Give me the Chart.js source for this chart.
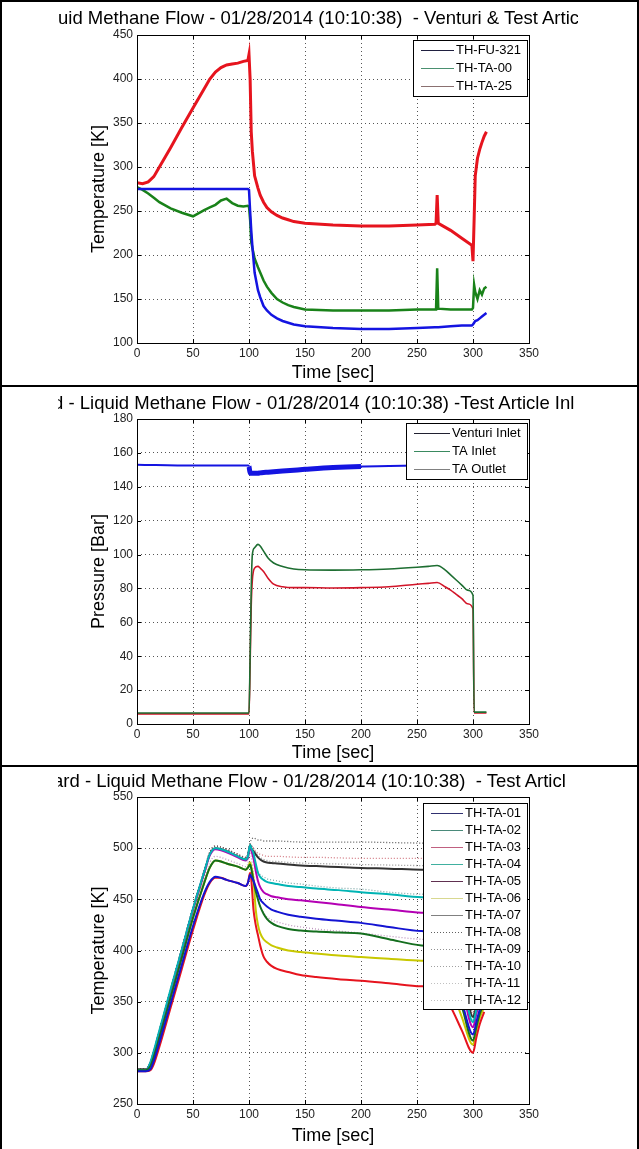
<!DOCTYPE html>
<html>
<head>
<meta charset="utf-8">
<script src="https://cdn.jsdelivr.net/npm/chart.js@4.4.1/dist/chart.umd.min.js"></script>
<style>
  body { margin: 0; background: #fff; }
  #page { position: relative; width: 639px; height: 1149px; overflow: hidden; background: #fff; }
  canvas { position: absolute; left: 0; }
  .rule { position: absolute; background: #000; }
  .title { position: absolute; left: 58px; width: 520px; height: 24px; overflow: hidden;
           white-space: pre; font: 18.5px "Liberation Sans", Arial, sans-serif; color: #000; }
</style>
</head>
<body>
<div id="page">
  <canvas id="tempChart" width="639" height="388" style="top:0"></canvas>
  <canvas id="pressChart" width="639" height="383" style="top:385px"></canvas>
  <canvas id="articleChart" width="639" height="385" style="top:766px"></canvas>

  <div class="title" style="top:7px"><span>uid Methane Flow - 01/28/2014 (10:10:38)  - Venturi &amp; Test Artic</span></div>
  <div class="title" style="top:392px"><span style="margin-left:-5px">d - Liquid Methane Flow - 01/28/2014 (10:10:38) -Test Article Inl</span></div>
  <div class="title" style="top:770px"><span style="margin-left:-5px">ard - Liquid Methane Flow - 01/28/2014 (10:10:38)  - Test Articl</span></div>

  <div class="rule" style="left:0;top:0;width:639px;height:2px"></div>
  <div class="rule" style="left:0;top:385px;width:639px;height:2px"></div>
  <div class="rule" style="left:0;top:765px;width:639px;height:2px"></div>
  <div class="rule" style="left:0;top:0;width:2px;height:1149px"></div>
  <div class="rule" style="left:637px;top:0;width:2px;height:1149px"></div>
</div>

<script>
// panel 1 - venturi & test article temperatures
const p1Time = [0, 5, 10, 15, 20, 30, 40, 50, 60, 65,
  70, 75, 80, 85, 90, 95, 99, 100, 101, 102,
  103, 105, 108, 110, 113, 116, 120, 125, 130, 135,
  140, 150, 175, 200, 225, 250, 266, 267, 268, 269,
  280, 290, 299, 300, 301, 302, 304, 306, 308, 310, 312];
const thFU321 = [275, 275, 275, 275, 275, 275, 275, 275, 275, 275,
  275, 275, 275, 275, 275, 275, 275, 274, 250, 228,
  210, 180, 160, 152, 142, 137, 132, 128, 125, 123,
  121, 119, 117, 116, 116, 117, 118, 118, 118, 118,
  119, 120, 120, 121, 123, 125, 126, 128, 130, 132, 134];
const thTA00 = [277, 274, 270, 265, 260, 253, 248, 244, 251, 254,
  257, 262, 264, 259, 256, 255, 256, 255, 240, 215,
  208, 196, 186, 180, 171, 164, 157, 150, 146, 143,
  141, 138, 137, 137, 137, 138, 138, 138, 185, 139,
  138, 138, 138, 140, 166, 158, 150, 160, 155, 162, 164];
const thTA25 = [282, 281, 283, 289, 300, 322, 345, 367, 389, 400,
  408, 413, 416, 417, 418, 420, 421, 428, 400, 340,
  318, 290, 276, 268, 260, 254, 249, 245, 242, 240,
  238, 236, 234, 233, 233, 234, 235, 236, 268, 236,
  228, 219, 211, 193, 240, 290, 310, 320, 328, 335, 340];

// panel 2 - pressures
const p2Time = [0, 50, 99, 100, 101, 102, 103, 105, 108, 110,
  113, 117, 122, 130, 140, 150, 175, 200, 225, 250,
  260, 268, 275, 280, 285, 290, 295, 300, 301, 305, 312];
const venturiInlet = [153, 152.5, 152.5, 152, 148, 148, 148, 148, 148, 148.2,
  148.4, 148.6, 148.9, 149.3, 149.8, 150.3, 151.4, 152, 152.2, 152.5,
  152.7, 152.8, 153, 153, 153, 153, 153, 153, 153, 153, 153];
const taInlet = [6.5, 6.5, 6.5, 6.5, 40, 80, 100, 104, 106, 105,
  102, 98, 95, 93, 91.5, 91, 90.8, 91, 91.5, 92.5,
  93, 93.5, 91, 88, 85, 82, 79, 76, 7, 7, 7];
const taOutlet = [6, 6, 6, 6, 35, 70, 85, 92, 93, 92,
  90, 86, 82.5, 81, 80.5, 80.5, 80.3, 80.5, 81, 82.5,
  83, 83.5, 81, 79, 76.5, 74, 71, 68, 6.5, 6.5, 6.5];

// panel 3 - test article thermocouples
const p3Time = [0, 8, 12, 15, 20, 30, 40, 50, 60, 65,
  70, 75, 80, 90, 97, 99, 101, 102, 104, 106,
  108, 110, 113, 116, 120, 125, 135, 146, 160, 180,
  200, 225, 254, 268, 280, 290, 300, 303, 306, 310];
const thTA01 = [282, 282, 284, 292, 310, 348, 386, 424, 456, 467, 472, 471, 469, 466, 463, 466,
  474, 472, 468, 462, 456, 450, 446, 443, 440, 438, 435, 433, 431, 429, 427, 423, 419, 417, 385, 350, 318, 330, 342, 352];
const thTA02 = [283, 283, 287, 296, 315, 354, 393, 432, 466, 481, 488, 487, 485, 482, 479, 481,
  484, 480, 468, 458, 450, 443, 436, 431, 427, 424, 421, 419.5, 418.5, 417.5, 416.5, 411, 405, 402, 375, 345, 312, 325, 338, 348];
const thTA03 = [282, 282, 283, 289, 306, 344, 382, 420, 454, 466, 471, 471, 469, 466, 463, 466,
  476, 470, 440, 425, 415, 405, 394, 389, 385, 382, 379, 376, 374, 372, 370.5, 368, 365, 364, 345, 322, 300, 315, 328, 340];
const thTA04 = [283, 283, 291, 302, 322, 362, 401, 441, 477, 494, 500, 499, 497, 492, 489, 492,
  503, 500, 495, 485, 476, 472, 469, 467, 466, 465, 463, 462, 460.5, 459, 457, 455, 452, 451, 415, 375, 330, 342, 354, 364];
const thTA05 = [283, 283, 290, 300, 320, 360, 400, 440, 476, 493, 499, 498, 496, 491, 488, 491,
  502, 498, 490, 478, 468, 462, 457, 455, 453, 452, 450, 449, 447.5, 445, 442.5, 440, 437, 435, 400, 365, 325, 338, 350, 360];
const thTA06 = [283, 283, 287, 296, 315, 354, 393, 432, 466, 481, 488, 487, 485, 482, 479, 481,
  486, 482, 470, 440, 425, 417, 411, 408, 405, 403, 400, 398.5, 397, 395, 393.6, 392, 390, 389, 365, 335, 308, 322, 334, 345];
const thTA07 = [284, 284, 290, 300, 320, 360, 400, 440, 476, 494, 500, 499, 497, 492, 489, 492,
  503, 500, 497, 494, 491, 489, 487, 486, 485.5, 485, 484, 483, 482.5, 481.5, 480.6, 480, 479, 478, 445, 390, 335, 345, 355, 365];
const thTA08 = [284, 284, 291, 302, 322, 362, 402, 442, 478, 496, 502, 501, 499, 494, 491, 494,
  505, 508, 510, 509, 508, 508, 507, 507, 507, 507, 506.5, 506, 506, 506, 506, 505.5, 505, 505, 465, 410, 340, 352, 362, 372];
const thTA09 = [284, 284, 291, 302, 322, 362, 402, 442, 478, 496, 502, 501, 499, 494, 491, 494,
  503, 502, 500, 497, 495, 494, 493, 492, 492, 492, 491.5, 491, 491, 490.5, 490, 490, 490, 489, 455, 400, 338, 350, 360, 370];
const thTA10 = [284, 284, 291, 302, 322, 362, 402, 442, 478, 496, 502, 501, 499, 494, 491, 494,
  500, 497, 490, 482, 477, 474, 472, 470, 469, 468, 466, 465, 463, 461, 460, 457, 455, 454, 420, 380, 332, 344, 356, 366];
const thTA11 = [283, 283, 288, 298, 317, 356, 395, 434, 470, 486, 492, 491, 489, 485, 482, 485,
  498, 492, 475, 460, 450, 443, 437, 433, 430, 428, 425, 423, 421, 419, 417, 414, 411, 409, 380, 348, 315, 328, 340, 350];
const thTA12 = [284, 284, 291, 302, 322, 362, 402, 442, 478, 496, 502, 501, 499, 494, 491, 494,
  504, 503, 500, 496, 493, 491, 489, 488, 487, 487, 486, 485.5, 485, 484.5, 484, 483.5, 483, 482, 450, 395, 336, 348, 358, 368];

const xTicks = { min: 0, max: 350, step: 50 };

Chart.defaults.font.family = '"Liberation Sans", Arial, sans-serif';

const pts = (times, vals) => times.map((t, i) => ({ x: t, y: vals[i] }));

// matlab style box, inner tick marks and legend
const matlabBox = {
  id: 'matlabBox',
  afterDraw(chart, args, opts) {
    const { ctx, chartArea: a, scales } = chart;
    ctx.save();
    ctx.strokeStyle = '#000';
    ctx.lineWidth = 1;
    ctx.setLineDash([]);
    ctx.beginPath();
    scales.x.ticks.forEach(t => {
      const px = Math.round(scales.x.getPixelForValue(t.value)) + 0.5;
      ctx.moveTo(px, a.bottom); ctx.lineTo(px, a.bottom - 4);
      ctx.moveTo(px, a.top); ctx.lineTo(px, a.top + 4);
    });
    scales.y.ticks.forEach(t => {
      const py = Math.round(scales.y.getPixelForValue(t.value)) + 0.5;
      ctx.moveTo(a.left, py); ctx.lineTo(a.left + 4, py);
      ctx.moveTo(a.right, py); ctx.lineTo(a.right - 4, py);
    });
    ctx.stroke();
    ctx.strokeRect(Math.round(a.left) + 0.5, Math.round(a.top) + 0.5,
      Math.round(a.right - a.left), Math.round(a.bottom - a.top));

    // legend
    const ds = chart.data.datasets;
    ctx.font = '13px "Liberation Sans", Arial, sans-serif';
    const textW = Math.max(...ds.map(d => ctx.measureText(d.label).width));
    const w = Math.round(8 + opts.sample + 2 + textW + 6);
    const h = ds.length * opts.rowH + 2;
    const x = Math.round(a.right) - 2 - w;
    const y = Math.round(a.top) + opts.top;
    ctx.fillStyle = '#fff';
    ctx.fillRect(x, y, w, h);
    ctx.strokeRect(x + 0.5, y + 0.5, w, h);
    ds.forEach((d, i) => {
      const ly = Math.round(y + 1 + opts.rowH * (i + 0.5)) + 0.5;
      ctx.strokeStyle = d.legendColor;
      ctx.setLineDash(d.borderDash || []);
      ctx.beginPath();
      ctx.moveTo(x + 8, ly);
      ctx.lineTo(x + 8 + opts.sample, ly);
      ctx.stroke();
      ctx.fillStyle = '#000';
      ctx.textBaseline = 'middle';
      ctx.textAlign = 'left';
      ctx.fillText(d.label, x + 8 + opts.sample + 2, ly);
    });
    ctx.restore();
  }
};

const axis = (min, max, step, title, size) => ({
  type: 'linear', min: min, max: max,
  ticks: { stepSize: step, padding: 3, color: '#222', font: { size: 12 }, autoSkip: false, maxRotation: 0 },
  grid: { color: '#555', drawTicks: false },
  border: { display: false, dash: [1, 3] },
  title: { display: true, text: title, color: '#000', font: { size: 18 } },
  afterFit: s => { if (s.isHorizontal()) s.height = size; else s.width = size; }
});

const generateChart = (canvasId, datasets, yAxis, xHeight, padTop, legendOpts, curve) => {
  const yScale = axis(yAxis.min, yAxis.max, yAxis.step, yAxis.title, 53);
  yScale.ticks.padding = 4;
  return new Chart(document.getElementById(canvasId), {
    type: 'line',
    data: { datasets: datasets },
    options: {
      responsive: false,
      animation: false,
      devicePixelRatio: 1,
      layout: { padding: { left: 84, right: 110, top: padTop, bottom: 0 } },
      elements: { point: { radius: 0 }, line: { cubicInterpolationMode: curve, tension: 0, fill: false } },
      scales: {
        x: axis(xTicks.min, xTicks.max, xTicks.step, 'Time [sec]', xHeight),
        y: yScale
      },
      plugins: { legend: { display: false }, tooltip: { enabled: false }, matlabBox: legendOpts }
    },
    plugins: [matlabBox]
  });
};

const line = (label, times, vals, color, legendColor, width, dash) => ({
  label: label, data: pts(times, vals), borderColor: color, legendColor: legendColor,
  borderWidth: width, borderDash: dash || []
});

generateChart('tempChart', [
  line('TH-FU-321', p1Time, thFU321, 'rgb(20,20,225)', '#202040', 2.5),
  line('TH-TA-00', p1Time, thTA00, 'rgb(25,130,25)', '#4a9070', 2.5),
  line('TH-TA-25', p1Time, thTA25, 'rgb(230,20,30)', '#8a7070', 3)
], { min: 100, max: 450, step: 50, title: 'Temperature [K]' }, 45, 35,
  { sample: 33, rowH: 18, top: 5 }, 'default');

const venturi = line('Venturi Inlet', p2Time, venturiInlet, 'rgb(20,20,225)', '#202030', 2);
venturi.segment = { borderWidth: c => (c.p0.parsed.x >= 100 && c.p1.parsed.x <= 200 ? 5 : 2) };
generateChart('pressChart', [
  venturi,
  line('TA Inlet', p2Time, taInlet, 'rgb(30,110,50)', '#3a8a60', 1.6),
  line('TA Outlet', p2Time, taOutlet, 'rgb(210,20,40)', '#808080', 1.6)
], { min: 0, max: 180, step: 20, title: 'Pressure [Bar]' }, 44, 34,
  { sample: 36, rowH: 18, top: 4 }, 'monotone');

generateChart('articleChart', [
  line('TH-TA-01', p3Time, thTA01, 'rgb(20,20,210)', '#303070', 2),
  line('TH-TA-02', p3Time, thTA02, 'rgb(20,110,30)', '#4a8a7a', 2),
  line('TH-TA-03', p3Time, thTA03, 'rgb(230,20,30)', '#c06080', 2),
  line('TH-TA-04', p3Time, thTA04, 'rgb(0,180,180)', '#40b0a0', 2),
  line('TH-TA-05', p3Time, thTA05, 'rgb(180,0,180)', '#603050', 2),
  line('TH-TA-06', p3Time, thTA06, 'rgb(200,200,0)', '#d8d890', 2),
  line('TH-TA-07', p3Time, thTA07, 'rgb(50,50,50)', '#808080', 2),
  line('TH-TA-08', p3Time, thTA08, 'rgb(90,90,90)', '#606060', 1.3, [1, 2]),
  line('TH-TA-09', p3Time, thTA09, 'rgb(210,120,130)', '#909090', 1.3, [1, 2]),
  line('TH-TA-10', p3Time, thTA10, 'rgb(130,170,170)', '#a0a0a0', 1.3, [1, 2]),
  line('TH-TA-11', p3Time, thTA11, 'rgb(190,150,190)', '#c0c0c0', 1.3, [1, 2]),
  line('TH-TA-12', p3Time, thTA12, 'rgb(150,150,150)', '#c0c0c0', 1.3, [1, 2])
], { min: 250, max: 550, step: 50, title: 'Temperature [K]' }, 47, 31,
  { sample: 32, rowH: 17, top: 6 }, 'monotone');
</script>
</body>
</html>
